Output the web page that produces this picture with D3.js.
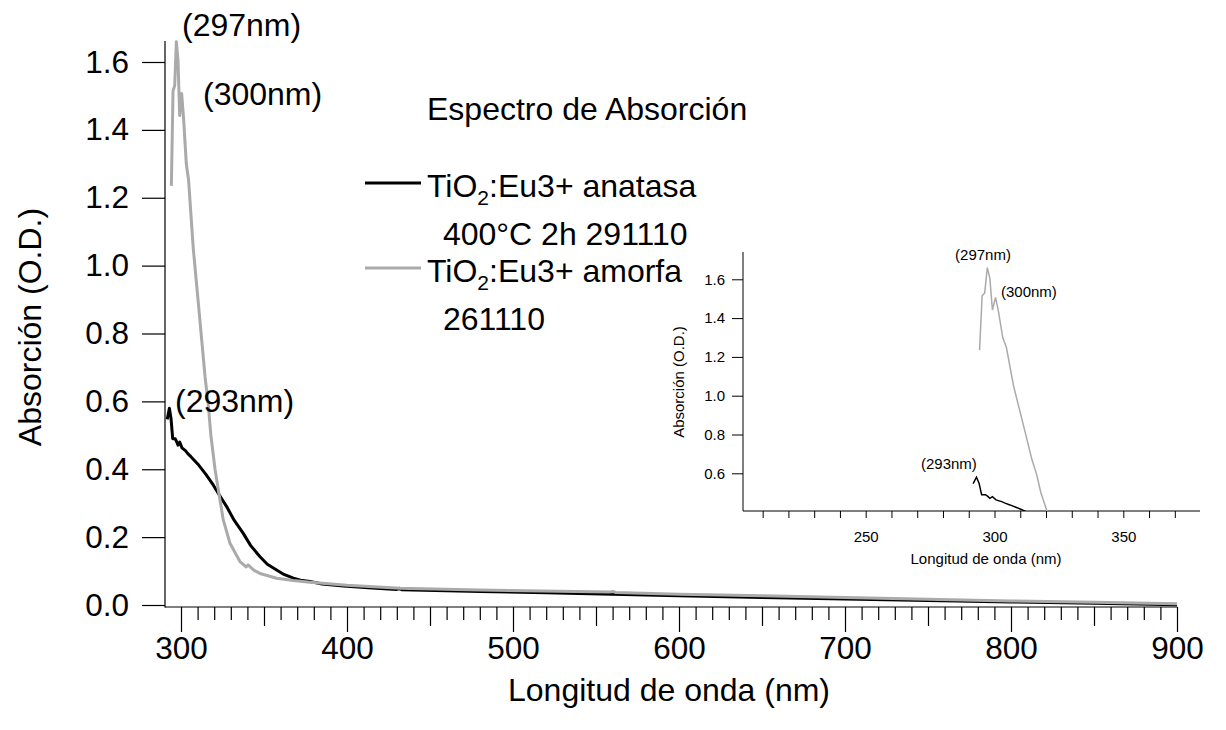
<!DOCTYPE html>
<html>
<head>
<meta charset="utf-8">
<script src="https://cdn.jsdelivr.net/npm/d3@7"></script>
<style>
html,body{margin:0;padding:0;background:#fff;}
svg{display:block;font-family:Arial,"Liberation Sans",sans-serif;}
</style>
</head>
<body>
<svg id="chart" width="1226" height="730"></svg>
<script>
// ---- Data (wavelength nm, absorbance O.D.) ----
const anatasaNm  = [291.7,293,294,295,296.5,297.4,298.2,299.2,300.6,302.8,304.1,306,310.2,315,319.5,323,327.5,332,337.5,342,347.6,352,357.6,362,367.7,372,377.7,385,397.8,415,430,431.5,433,480,520,600,650,700,750,800,850,900];
const anatasaAbs = [0.547,0.58,0.549,0.49,0.49,0.481,0.471,0.48,0.463,0.454,0.446,0.437,0.415,0.385,0.353,0.325,0.29,0.25,0.211,0.175,0.142,0.12,0.103,0.09,0.079,0.073,0.069,0.062,0.056,0.05,0.046,0.049,0.045,0.04,0.036,0.027,0.022,0.018,0.013,0.009,0.005,0.001];
const amorfaNm   = [294.2,295.2,296.2,297.2,298.2,299.2,300.4,301.6,303.2,304.6,307.4,309.9,312.5,314.5,316.4,318,320.5,322.5,325.5,329.5,335.5,339.2,340.4,344,347.6,357.6,367.7,377.7,400,432,480,558,560,562,600,650,700,750,800,850,900];
const amorfaAbs  = [1.235,1.515,1.53,1.66,1.605,1.442,1.507,1.43,1.30,1.25,1.05,0.918,0.78,0.672,0.592,0.50,0.40,0.339,0.25,0.182,0.128,0.112,0.118,0.102,0.093,0.079,0.072,0.067,0.058,0.049,0.044,0.038,0.040,0.037,0.032,0.027,0.022,0.017,0.012,0.008,0.004];

const legendLine1 = ["TiO","2",":Eu3+ anatasa"];
const legendLine1b = " 400°C 2h 291110";
const legendLine2 = ["TiO","2",":Eu3+ amorfa"];
const legendLine2b = " 261110";

const yTicks = [0,0.2,0.4,0.6,0.8,1.0,1.2,1.4,1.6];
const xMajor = [300,400,500,600,700,800,900];
const xMid   = [350,450,550,650,750,850];
const xMinor = d3.range(310,900,10).filter(v => v % 50 !== 0);

const insetYTicks = [0.6,0.8,1.0,1.2,1.4,1.6];
const insetXLabels = [250,300,350];
const insetXTicks = d3.range(210,371,10);

const peakLabels = ["(297nm)","(300nm)","(293nm)"];

const title = "Espectro de Absorción";
const xTitle = "Longitud de onda (nm)";
const yTitle = "Absorción (O.D.)";

const colors = {anatasa:"#000000", amorfa:"#aaaaaa"};

// ---- Build ----
const svg = d3.select("#chart");
const toPts = (xs, ys) => xs.map((x,i)=>({x, y:ys[i]}));
const dataA = toPts(anatasaNm, anatasaAbs);
const dataB = toPts(amorfaNm, amorfaAbs);

// main scales
const x = d3.scaleLinear().domain([300,900]).range([181,1177]);
const y = d3.scaleLinear().domain([0,1.6]).range([605,62]);
const axisY0 = 607, axisX0 = 165;

const FS = 32;
const FST = 31.5;

// axes lines
svg.append("line").attr("x1",axisX0).attr("x2",axisX0).attr("y1",41).attr("y2",axisY0+0.5).attr("stroke","#000").attr("stroke-width",1.2);
svg.append("line").attr("x1",axisX0).attr("x2",x(900)+0.5).attr("y1",axisY0).attr("y2",axisY0).attr("stroke","#000").attr("stroke-width",1.2);

// y axis
const gy = svg.append("g").attr("transform",`translate(${axisX0},0)`)
  .call(d3.axisLeft(y).tickValues(yTicks).tickFormat(d3.format(".1f")).tickSize(23).tickPadding(13));
gy.select(".domain").remove();
gy.selectAll("text").attr("font-size",FST).attr("font-family","Arial, Liberation Sans, sans-serif").attr("fill","#000");
gy.selectAll("line").attr("stroke-width",1.2);

// x axis
function xAx(vals, size, labels){
  const g = svg.append("g").attr("transform",`translate(0,${axisY0})`)
    .call(d3.axisBottom(x).tickValues(vals).tickSize(size).tickPadding(5).tickFormat(labels ? d3.format("d") : ""));
  g.select(".domain").remove();
  g.selectAll("line").attr("stroke-width",1.2);
  g.selectAll("text").attr("font-size",FST).attr("font-family","Arial, Liberation Sans, sans-serif").attr("fill","#000");
  return g;
}
xAx(xMinor, 13, false);
xAx(xMid, 19, false);
xAx(xMajor, 25, true);

// titles
svg.append("text").attr("x",669).attr("y",701).attr("text-anchor","middle").attr("font-size",FS).text(xTitle);
svg.append("text").attr("transform","translate(41,327) rotate(-90)").attr("text-anchor","middle").attr("font-size",FS).text(yTitle);

// main lines
const line = d3.line().x(d=>x(d.x)).y(d=>y(d.y));
svg.append("path").datum(dataA).attr("d",line).attr("fill","none").attr("stroke",colors.anatasa).attr("stroke-width",3).attr("stroke-linejoin","round");
svg.append("path").datum(dataB).attr("d",line).attr("fill","none").attr("stroke",colors.amorfa).attr("stroke-width",3).attr("stroke-linejoin","round");

// peak annotations
svg.append("text").attr("x",182).attr("y",36).attr("font-size",FS).text(peakLabels[0]);
svg.append("text").attr("x",203).attr("y",105).attr("font-size",FS).text(peakLabels[1]);
svg.append("text").attr("x",175).attr("y",412).attr("font-size",FS).text(peakLabels[2]);

// title
svg.append("text").attr("x",427).attr("y",120).attr("font-size",FS).text(title);

// legend
function legendEntry(yLine, yText, parts, sub, color){
  svg.append("line").attr("x1",365).attr("x2",421).attr("y1",yLine).attr("y2",yLine).attr("stroke",color).attr("stroke-width",3);
  const t = svg.append("text").attr("x",427).attr("y",yText).attr("font-size",FS);
  t.append("tspan").text(parts[0]);
  t.append("tspan").attr("font-size",21).attr("dy",8).text(parts[1]);
  t.append("tspan").attr("dy",-8).text(parts[2]);
  svg.append("text").attr("x",434).attr("y",sub.y).attr("font-size",FS).attr("xml:space","preserve").text(sub.text);
}
legendEntry(183, 197, legendLine1, {y:245, text:legendLine1b}, colors.anatasa);
legendEntry(268, 282, legendLine2, {y:330, text:legendLine2b}, colors.amorfa);

// ---- Inset ----
const xi = d3.scaleLinear().domain([250,350]).range([865.7,1123.3]);
const yi = d3.scaleLinear().domain([0.6,1.6]).range([473.3,279.3]);
const inL = 743, inB = 511, inR = 1200, inT = 252;
const FSi = 15;

svg.append("defs").append("clipPath").attr("id","clipInset")
  .append("rect").attr("x",inL).attr("y",inT).attr("width",inR-inL).attr("height",inB-inT);

svg.append("line").attr("x1",inL).attr("x2",inL).attr("y1",inT).attr("y2",inB).attr("stroke","#000").attr("stroke-width",1);
svg.append("line").attr("x1",inL).attr("x2",inR).attr("y1",inB).attr("y2",inB).attr("stroke","#000").attr("stroke-width",1);

const giy = svg.append("g").attr("transform",`translate(${inL},0)`)
  .call(d3.axisLeft(yi).tickValues(insetYTicks).tickFormat(d3.format(".1f")).tickSize(11).tickPadding(7));
giy.select(".domain").remove();
giy.selectAll("text").attr("font-size",FSi).attr("font-family","Arial, Liberation Sans, sans-serif").attr("fill","#000");

const gix = svg.append("g").attr("transform",`translate(0,${inB})`)
  .call(d3.axisBottom(xi).tickValues(insetXTicks).tickSize(7).tickPadding(13).tickFormat(d => insetXLabels.includes(d) ? d : ""));
gix.select(".domain").remove();
gix.selectAll("text").attr("font-size",FSi).attr("font-family","Arial, Liberation Sans, sans-serif").attr("fill","#000");

svg.append("text").attr("x",986).attr("y",564).attr("text-anchor","middle").attr("font-size",FSi).text(xTitle);
svg.append("text").attr("transform","translate(684,382) rotate(-90)").attr("text-anchor","middle").attr("font-size",FSi).text(yTitle);

const linei = d3.line().x(d=>xi(d.x)).y(d=>yi(d.y));
const gc = svg.append("g").attr("clip-path","url(#clipInset)");
gc.append("path").datum(dataA).attr("d",linei).attr("fill","none").attr("stroke",colors.anatasa).attr("stroke-width",1.5);
gc.append("path").datum(dataB).attr("d",linei).attr("fill","none").attr("stroke",colors.amorfa).attr("stroke-width",1.5);

svg.append("text").attr("x",983).attr("y",260).attr("text-anchor","middle").attr("font-size",FSi).text(peakLabels[0]);
svg.append("text").attr("x",1001).attr("y",297).attr("font-size",FSi).text(peakLabels[1]);
svg.append("text").attr("x",921).attr("y",469).attr("font-size",FSi).text(peakLabels[2]);
</script>
</body>
</html>
